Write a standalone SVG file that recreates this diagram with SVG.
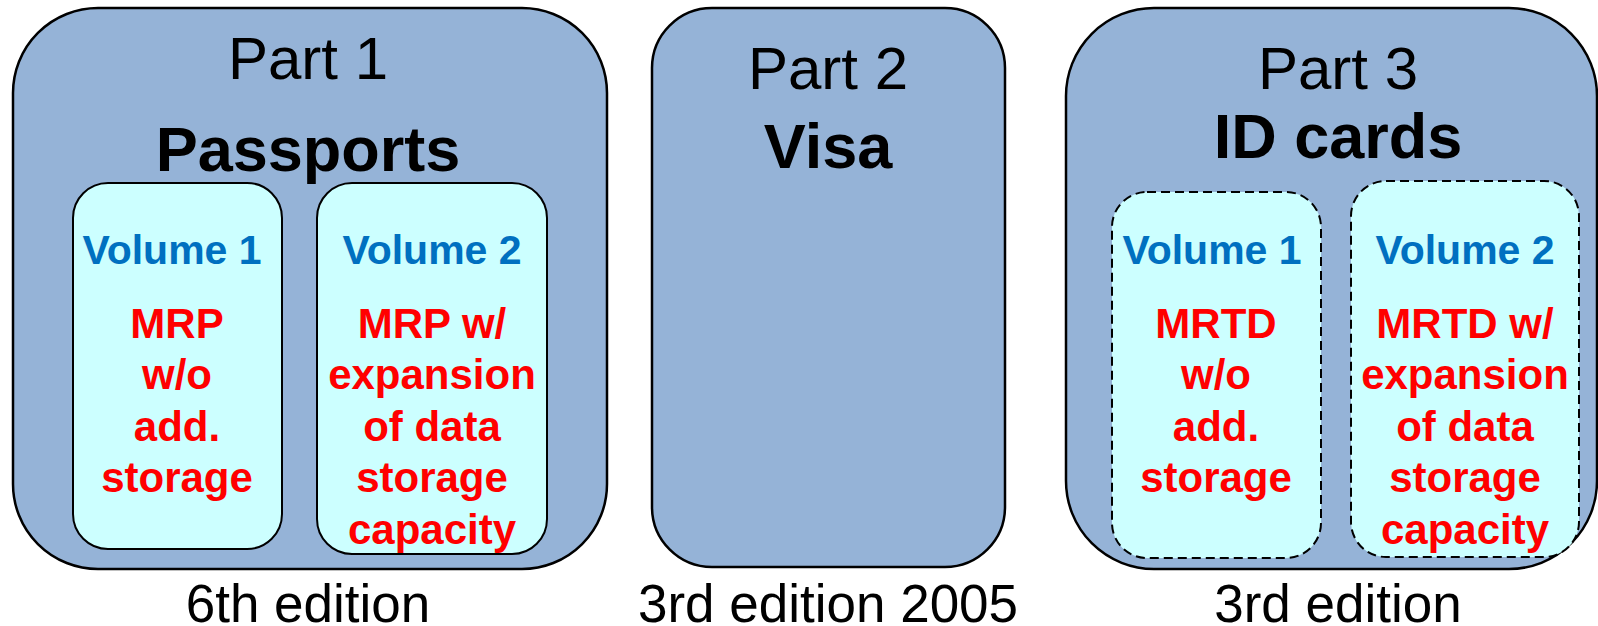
<svg xmlns="http://www.w3.org/2000/svg" width="1598" height="626" viewBox="0 0 1598 626">
<style>
.part{fill:#95B3D7;stroke:#000;stroke-width:2.5}
.vol{fill:#CCFFFF;stroke:#000;stroke-width:2}
.dash{stroke-dasharray:9 5}
text{font-family:"Liberation Sans",Arial,sans-serif;text-anchor:middle}
.pt{font-size:60px;fill:#000}
.ttl{font-size:63px;font-weight:bold;fill:#000}
.vt{font-size:41px;font-weight:bold;fill:#0070C0}
.rt{font-size:42px;font-weight:bold;fill:#FF0000}
.ed{font-size:53px;fill:#000}
</style>
<g id="part1">
<rect class="part" x="13" y="8" width="594" height="561" rx="85" ry="85"/>
<text class="pt" x="308" y="79">Part 1</text>
<text class="ttl" x="308" y="171">Passports</text>
</g>
<g id="p1v1">
<rect class="vol" x="73" y="183" width="209" height="366" rx="35" ry="35"/>
<text class="vt" x="172" y="264">Volume 1</text>
<text class="rt" x="177" y="338">MRP</text>
<text class="rt" x="177" y="389">w/o</text>
<text class="rt" x="177" y="441">add.</text>
<text class="rt" x="177" y="492">storage</text>
</g>
<g id="p1v2">
<rect class="vol" x="317" y="183" width="230" height="371" rx="35" ry="35"/>
<text class="vt" x="432" y="264">Volume 2</text>
<text class="rt" x="432" y="338">MRP w/</text>
<text class="rt" x="432" y="389">expansion</text>
<text class="rt" x="432" y="441">of data</text>
<text class="rt" x="432" y="492">storage</text>
<text class="rt" x="432" y="544">capacity</text>
</g>
<g id="part2">
<rect class="part" x="652" y="8" width="353" height="559" rx="60" ry="60"/>
<text class="pt" x="828" y="89">Part 2</text>
<text class="ttl" x="828" y="168">Visa</text>
</g>
<g id="part3">
<rect class="part" x="1066" y="8" width="531" height="561" rx="88" ry="88"/>
<text class="pt" x="1338" y="89">Part 3</text>
<text class="ttl" x="1338" y="158">ID cards</text>
</g>
<g id="p3v1">
<rect class="vol dash" x="1112" y="192" width="209" height="366" rx="35" ry="35"/>
<text class="vt" x="1212" y="264">Volume 1</text>
<text class="rt" x="1216" y="338">MRTD</text>
<text class="rt" x="1216" y="389">w/o</text>
<text class="rt" x="1216" y="441">add.</text>
<text class="rt" x="1216" y="492">storage</text>
</g>
<g id="p3v2">
<rect class="vol dash" x="1351" y="181" width="228" height="376" rx="35" ry="35"/>
<text class="vt" x="1465" y="264">Volume 2</text>
<text class="rt" x="1465" y="338">MRTD w/</text>
<text class="rt" x="1465" y="389">expansion</text>
<text class="rt" x="1465" y="441">of data</text>
<text class="rt" x="1465" y="492">storage</text>
<text class="rt" x="1465" y="544">capacity</text>
</g>
<g id="labels">
<text class="ed" x="308" y="622">6th edition</text>
<text class="ed" x="828" y="622">3rd edition 2005</text>
<text class="ed" x="1338" y="622">3rd edition</text>
</g>
<g id="connectors"/>
</svg>
